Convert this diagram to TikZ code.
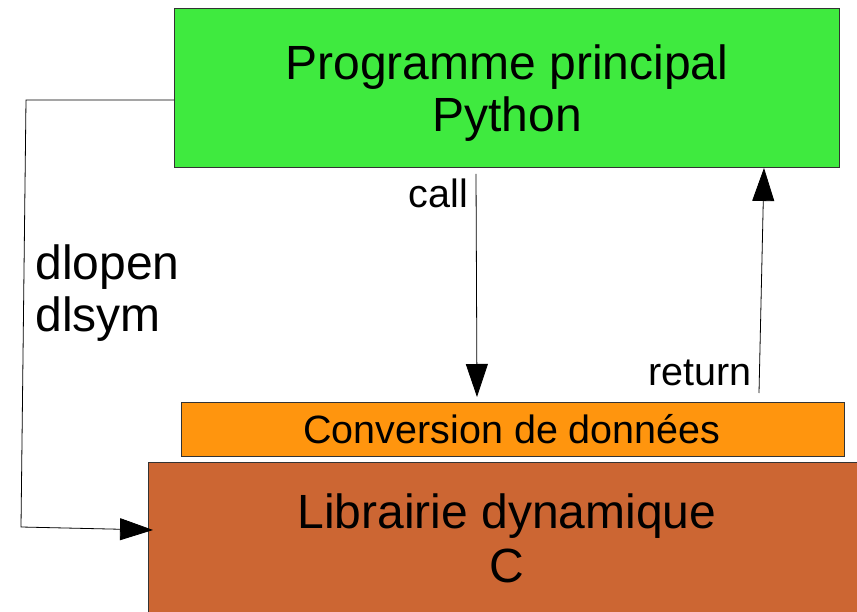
\documentclass[tikz,border=0pt]{standalone}
\usepackage{fontspec}
\setmainfont{Liberation Sans}
\usetikzlibrary{arrows.meta}
\definecolor{pgreen}{RGB}{63,234,63}
\definecolor{porange}{RGB}{255,149,14}
\definecolor{pbrown}{RGB}{204,102,51}
\tikzset{
  boxstyle/.style={draw=black!80, line width=0.8pt, inner sep=0pt},
  conn/.style={draw=black, line width=0.8pt, -{Triangle[length=33pt,width=22pt]}},
  bigtext/.style={font=\fontsize{48}{54}\selectfont, anchor=base},
  midtext/.style={font=\fontsize{39.5}{45}\selectfont, anchor=base},
}
\begin{document}
\begin{tikzpicture}[x=1pt,y=-1pt]
\useasboundingbox (0,0) rectangle (857,612);
\clip (0,0) rectangle (857,612);
% boxes
\path[boxstyle, fill=pgreen] (174,8) rectangle (839,167);
\coordinate (green) at (174,100);
\path[boxstyle, fill=porange] (181,402) rectangle (844,456);
\path[boxstyle, fill=pbrown] (148,462) rectangle (880,640);
% texts
\node[bigtext] (t1) at (507,80) {Programme principal};
\node[bigtext] (t2) at (507,132) {Python};
\node[midtext] (t3) at (512,443) {Conversion de données};
\node[bigtext] (t4) at (507,528) {Librairie dynamique};
\node[bigtext] (t5) at (507,582) {C};
\node[midtext, anchor=base west] (call) at (405,208) {call};
\node[midtext, anchor=base west] (ret) at (645,385) {return};
\node[bigtext, anchor=base west] (dl1) at (32,280) {dlopen};
\node[bigtext, anchor=base west] (dl2) at (32,332) {dlsym};
% connectors
\coordinate (c1) at (476,174);
\coordinate (c2) at (477,397);
\draw[conn] (c1) -- (c2);
\coordinate (r1) at (759,393);
\coordinate (r2) at (764,168);
\draw[conn] (r1) -- (r2);
\coordinate (d1) at (26,100);
\coordinate (d2) at (21,527);
\coordinate (d3) at (153,530);
\draw[conn] (green) -- (d1) -- (d2) -- (d3);
\end{tikzpicture}
\end{document}
